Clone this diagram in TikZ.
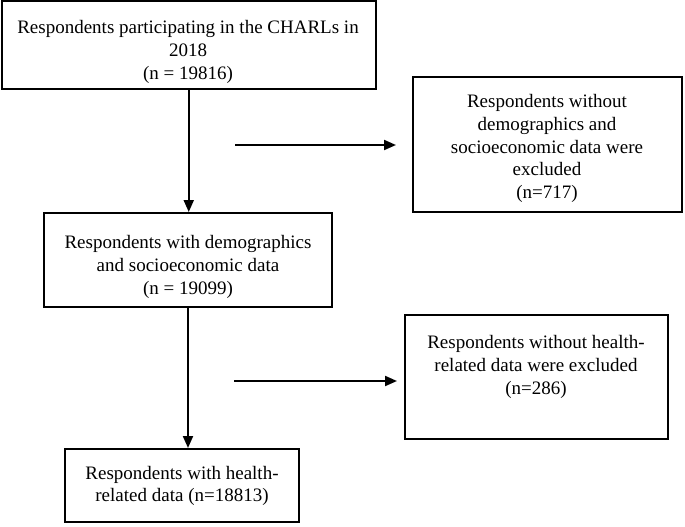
\documentclass[tikz,border=0pt]{standalone}
\usepackage{fontspec}
\setmainfont{Liberation Serif}
\usetikzlibrary{arrows.meta}
\begin{document}
\begin{tikzpicture}[x=1pt,y=-1pt,
  box/.style={draw=black,line width=2pt,rectangle,inner sep=0pt},
  txt/.style={align=center,inner sep=0pt,font=\fontsize{19}{22.8}\selectfont},
  arr/.style={line width=2pt,-{Triangle[length=12pt,width=10pt]}}]
\useasboundingbox (0,0) rectangle (685,527);
\node[box,minimum width=374.5pt,minimum height=87pt] (B1) at (188.75,45) {};
\node[box,minimum width=269pt,minimum height=135pt] (B2) at (547.5,144.5) {};
\node[box,minimum width=288pt,minimum height=94pt] (B3) at (188,260) {};
\node[box,minimum width=263pt,minimum height=124pt] (B4) at (536.5,377) {};
\node[box,minimum width=234pt,minimum height=73pt] (B5) at (182,485.5) {};
\node[txt] (T1) at (188,52) {Respondents participating in the CHARLs in\\2018\\(n = 19816)};
\node[txt] (T2) at (547,148.5) {Respondents without\\demographics and\\socioeconomic data were\\excluded\\(n=717)};
\node[txt] (T3) at (188,267) {Respondents with demographics\\and socioeconomic data\\(n = 19099)};
\node[txt] (T4) at (536,367) {Respondents without health-\\related data were excluded\\(n=286)};
\node[txt] (T5) at (182,486) {Respondents with health-\\related data (n=18813)};
\draw[arr] (B1.south) -- (B1.south |- B3.north);
\draw[arr] (B3.south) -- (B3.south |- B5.north);
\coordinate (h1) at (235,145);
\coordinate (h2) at (234,381);
\draw[arr,shorten >=16pt] (h1) -- (h1 -| B2.west);
\draw[arr,shorten >=7pt] (h2) -- (h2 -| B4.west);
\end{tikzpicture}
\end{document}
